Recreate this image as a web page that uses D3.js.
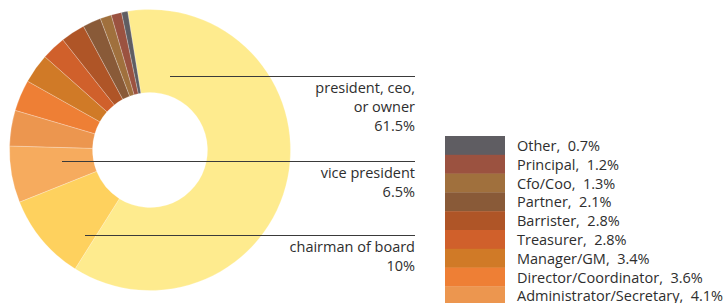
<!DOCTYPE html>
<html>
<head>
<meta charset="utf-8">
<script src="https://cdn.jsdelivr.net/npm/d3@7"></script>
<style>
  body { margin: 0; background: #fff; overflow: hidden; }
  text { font-family: "Open Sans", sans-serif; fill: #2e2e2e; }
</style>
</head>
<body>
<div id="chart"></div>
<script>
// slices in drawing order (clockwise from the top)
var titles = ["president, ceo, or owner", "chairman of board", "vice president",
              "Administrator/Secretary", "Director/Coordinator", "Manager/GM",
              "Treasurer", "Barrister", "Partner", "Cfo/Coo", "Principal", "Other"];
var shares = [61.5, 10, 6.5, 4.1, 3.6, 3.4, 2.8, 2.8, 2.1, 1.3, 1.2, 0.7];
var colors = ["#feeb8e", "#fed15e", "#f6ab5e", "#ec964f", "#ee7f35", "#d07a27",
              "#d0602b", "#af5527", "#895a38", "#a0703d", "#9b5240", "#5f5d62"];

// callout labels for the three big slices
var calloutLines = [["president, ceo,", "or owner", "61.5%"],
                    ["vice president", "6.5%"],
                    ["chairman of board", "10%"]];

// legend lists the small slices, last one first
var legendIdx = [11, 10, 9, 8, 7, 6, 5, 4, 3];

function init(){
    var w = 723, h = 303;
    var cx = 150, cy = 150, outerR = 140.5, innerR = 57.5;

    var svg = d3.select("#chart").append("svg")
                .attr("width", w)
                .attr("height", h);

    var pie = d3.pie()
                .sort(null)
                .value(function(d){ return d; })
                .startAngle(-0.16)
                .endAngle(-0.16 + 2 * Math.PI);

    var arc = d3.arc().innerRadius(innerR).outerRadius(outerR);
    var arcs = pie(shares);

    var g = svg.append("g").attr("transform", "translate(" + cx + "," + cy + ")");
    g.selectAll("path")
        .data(arcs)
        .enter()
        .append("path")
        .attr("d", arc)
        .attr("fill", function(d, i){ return colors[i]; })
        .attr("stroke", "#fff")
        .attr("stroke-width", 0.4)
        .attr("stroke-opacity", 0.6);

    // callouts: line from inside the slice out to the right, text underneath
    var lineX2 = 415;
    var lineY = [76, 161, 235];
    var lineX1 = [170, 62, 85];
    calloutLines.forEach(function(lines, k){
        svg.append("line")
            .attr("x1", lineX1[k]).attr("x2", lineX2)
            .attr("y1", lineY[k] + 0.5).attr("y2", lineY[k] + 0.5)
            .attr("stroke", "#3a3a3a")
            .attr("stroke-width", 1);
        svg.selectAll(null)
            .data(lines)
            .enter()
            .append("text")
            .attr("x", lineX2)
            .attr("y", function(d, i){ return lineY[k] + 17 + i * 19; })
            .attr("text-anchor", "end")
            .style("font-size", "14.5px")
            .text(function(d){ return d; });
    });

    // legend
    var rowH = 18.8, lx = 445, ly = 136;
    var leg = svg.selectAll("g.leg")
        .data(legendIdx)
        .enter()
        .append("g")
        .attr("class", "leg")
        .attr("transform", function(d, i){ return "translate(" + lx + "," + (ly + i * rowH) + ")"; });
    leg.append("rect")
        .attr("width", 60)
        .attr("height", rowH + 0.3)
        .attr("fill", function(d){ return colors[d]; });
    leg.append("text")
        .attr("x", 72)
        .attr("y", 15)
        .style("font-size", "14.5px")
        .style("white-space", "pre")
        .text(function(d){ return titles[d] + ",  " + shares[d] + "%"; });
}
window.onload = init;
</script>
</body>
</html>
